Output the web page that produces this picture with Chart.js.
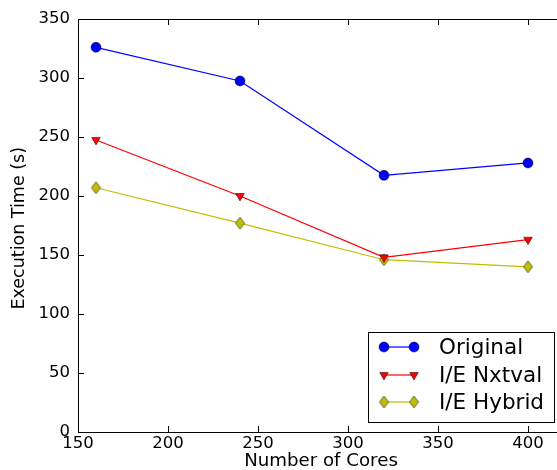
<!DOCTYPE html>
<html><head><meta charset="utf-8">
<script src="https://cdn.jsdelivr.net/npm/chart.js@4"></script>
<style>html,body{margin:0;padding:0;background:#fff;overflow:hidden}
#wrap{width:557px;height:470px;overflow:hidden;position:relative;background:#fff}
canvas{display:block}</style></head>
<body><div id="wrap"><canvas id="c" width="600" height="470"></canvas></div>
<script>
const cores = [160, 240, 320, 400];
const original = [326, 297.5, 217.5, 228];
const nxtval = [247.5, 200, 148, 163];
const hybrid = [207, 177, 146, 140];
const xTicks = [150, 200, 250, 300, 350, 400];
const yTicks = [0, 50, 100, 150, 200, 250, 300, 350];
const seriesNames = ['Original', 'I/E Nxtval', 'I/E Hybrid'];
const xTitle = 'Number of Cores';
const yTitle = 'Execution Time (s) ';

const BLUE = '#0000ff', RED = '#ff0000', YEL = '#bfbf00';
Chart.defaults.font.family = '"DejaVu Sans", sans-serif';
Chart.defaults.color = '#000';

function diamondCanvas(w, h) {
  const c = document.createElement('canvas');
  c.width = w + 2; c.height = h + 2;
  const g = c.getContext('2d');
  g.beginPath();
  g.moveTo(c.width / 2, 1); g.lineTo(c.width - 1, c.height / 2);
  g.lineTo(c.width / 2, c.height - 1); g.lineTo(1, c.height / 2); g.closePath();
  g.fillStyle = YEL; g.fill();
  g.lineWidth = 0.7; g.strokeStyle = '#333'; g.stroke();
  return c;
}
const diamond = diamondCanvas(9, 12);

function pts(ys) { return cores.map((x, i) => ({x: x, y: ys[i]})); }

const framePlugin = {
  id: 'frame',
  afterDraw(chart) {
    const {ctx, chartArea: a, scales: {x, y}} = chart;
    ctx.save();
    ctx.strokeStyle = '#000'; ctx.lineWidth = 1;
    ctx.strokeRect(Math.round(a.left) + 0.5, Math.round(a.top) + 0.5, Math.round(a.right - a.left), Math.round(a.bottom - a.top));
    const L = 6;
    ctx.beginPath();
    xTicks.forEach(v => {
      const px = Math.round(x.getPixelForValue(v)) + 0.5;
      ctx.moveTo(px, a.bottom); ctx.lineTo(px, a.bottom - L);
      ctx.moveTo(px, a.top); ctx.lineTo(px, a.top + L);
    });
    yTicks.forEach(v => {
      const py = Math.round(y.getPixelForValue(v)) + 0.5;
      ctx.moveTo(a.left, py); ctx.lineTo(a.left + L, py);
      ctx.moveTo(a.right, py); ctx.lineTo(a.right - L, py);
    });
    ctx.stroke();

    // legend
    const bx = 368.5, by = 332.5, bw = 186, bh = 90;
    ctx.fillStyle = '#fff'; ctx.fillRect(bx, by, bw, bh);
    ctx.strokeRect(bx, by, bw, bh);
    const rows = [347, 375, 402];
    const colors = [BLUE, RED, YEL];
    const x1 = 384, x2 = 414;
    rows.forEach((ry, i) => {
      ctx.strokeStyle = colors[i]; ctx.lineWidth = 1.2;
      ctx.beginPath(); ctx.moveTo(x1, ry); ctx.lineTo(x2, ry); ctx.stroke();
      [x1, x2].forEach(mx => {
        if (i === 0) {
          ctx.beginPath(); ctx.arc(mx, ry, 5, 0, Math.PI * 2);
          ctx.fillStyle = BLUE; ctx.fill();
          ctx.lineWidth = 0.5; ctx.strokeStyle = '#000'; ctx.stroke();
        } else if (i === 1) {
          ctx.beginPath();
          ctx.moveTo(mx - 4.3, ry - 2.5); ctx.lineTo(mx + 4.3, ry - 2.5); ctx.lineTo(mx, ry + 5); ctx.closePath();
          ctx.fillStyle = RED; ctx.fill();
          ctx.lineWidth = 0.5; ctx.strokeStyle = '#000'; ctx.stroke();
        } else {
          ctx.drawImage(diamond, mx - diamond.width / 2, ry - diamond.height / 2);
        }
      });
      ctx.fillStyle = '#000';
      ctx.font = '21.5px "DejaVu Sans"';
      ctx.textBaseline = 'middle'; ctx.textAlign = 'left';
      ctx.fillText(seriesNames[i], 439, ry + 1);
    });
    ctx.restore();
  }
};

new Chart(document.getElementById('c'), {
  type: 'line',
  data: {
    datasets: [
      {label: seriesNames[0], data: pts(original), borderColor: BLUE, backgroundColor: BLUE,
       borderWidth: 1.2, pointStyle: 'circle', pointRadius: 5, pointBorderColor: '#000', pointBorderWidth: 0.5},
      {label: seriesNames[1], data: pts(nxtval), borderColor: RED, backgroundColor: RED,
       borderWidth: 1.2, pointStyle: 'triangle', pointRotation: 180, pointRadius: 5, pointBorderColor: '#000', pointBorderWidth: 0.5},
      {label: seriesNames[2], data: pts(hybrid), borderColor: YEL, backgroundColor: YEL,
       borderWidth: 1.2, pointStyle: diamond, pointRadius: 6}
    ]
  },
  options: {
    responsive: false, animation: false, devicePixelRatio: 1,
    layout: {padding: {left: 0, top: 19, right: 36, bottom: 0}},
    plugins: {legend: {display: false}, tooltip: {enabled: false}},
    elements: {line: {tension: 0}},
    scales: {
      x: {
        type: 'linear', min: 150, max: 420,
        afterBuildTicks: s => { s.ticks = xTicks.map(v => ({value: v})); },
        afterFit: s => { s.height = 38; },
        grid: {display: false, drawTicks: false},
        border: {display: false},
        ticks: {font: {size: 16.5}, padding: 2, maxRotation: 0, autoSkip: false},
        title: {display: true, text: xTitle, font: {size: 18.2, lineHeight: 1}, padding: {top: 0, bottom: 0}}
      },
      y: {
        type: 'linear', min: 0, max: 350,
        afterBuildTicks: s => { s.ticks = yTicks.map(v => ({value: v})); },
        afterFit: s => { s.width = 78; },
        grid: {display: false, drawTicks: false},
        border: {display: false},
        ticks: {font: {size: 16.5}, padding: 8},
        title: {display: true, text: yTitle, font: {size: 17.5, lineHeight: 1.2}, padding: {top: 9, bottom: 0}}
      }
    }
  },
  plugins: [framePlugin]
});
</script></body></html>
